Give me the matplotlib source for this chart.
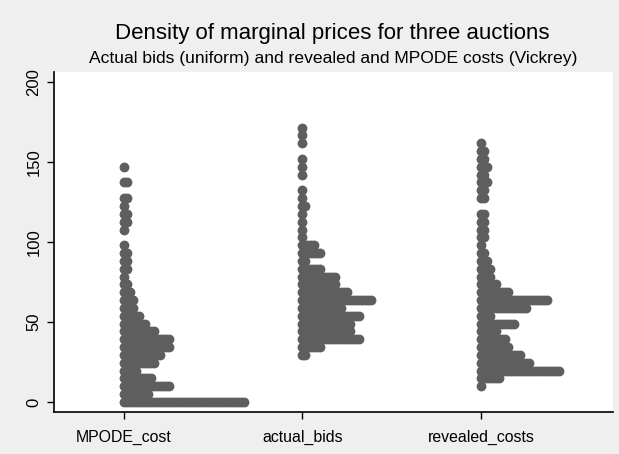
import numpy as np
import matplotlib
matplotlib.use("Agg")
import matplotlib.pyplot as plt

plt.rcParams['font.family'] = ['Liberation Sans', 'DejaVu Sans']

# Bin centres (marginal price) used by the dot plot
bin_values = [0.0, 4.9, 9.8, 14.7, 19.6, 24.5, 29.4, 34.3, 39.2, 44.1,
              49.0, 53.9, 58.8, 63.7, 68.6, 73.5, 78.4, 83.3, 88.2, 93.1,
              98.0, 102.9, 107.8, 112.7, 117.6, 122.5, 127.4, 132.3, 137.2, 142.1,
              147.0, 151.9, 156.8, 161.7, 166.6, 171.5]

categories = ["MPODE_cost", "actual_bids", "revealed_costs"]

# Number of dots in each bin, per variable
mpode_counts = [41, 9, 16, 10, 5, 11, 13, 16, 16, 11,
                8, 6, 4, 4, 3, 2, 1, 2, 2, 2,
                1, 0, 1, 2, 2, 1, 2, 0, 2, 0,
                1, 0, 0, 0, 0, 0]
actual_counts = [0, 0, 0, 0, 0, 0, 2, 7, 20, 17,
                 17, 20, 14, 24, 16, 12, 12, 7, 2, 7,
                 5, 1, 1, 1, 1, 2, 1, 1, 0, 1,
                 1, 1, 0, 1, 1, 1]
revealed_counts = [0, 0, 1, 7, 27, 17, 14, 10, 9, 6,
                   12, 4, 16, 23, 10, 6, 4, 4, 3, 2,
                   1, 2, 2, 2, 2, 0, 2, 2, 3, 2,
                   3, 2, 2, 1, 0, 0]

y_ticks = [0, 50, 100, 150, 200]

W, H = 619, 454
fig = plt.figure(figsize=(W / 100, H / 100), dpi=100)
fig.patch.set_facecolor('#efefef')

ax = fig.add_axes([54 / W, (H - 412) / H, (613 - 54) / W, (412 - 72) / H])
ax.set_facecolor('white')

dot_step = 0.0168
dot_color = '#5e5e5e'
for i, counts in enumerate([mpode_counts, actual_counts, revealed_counts]):
    xs, ys = [], []
    for yv, c in zip(bin_values, counts):
        for j in range(c):
            xs.append(i + 1 + j * dot_step)
            ys.append(yv)
    ax.scatter(xs, ys, s=50, color=dot_color, linewidths=0, zorder=3)

ax.set_xlim(0.608, 3.7395)
ax.set_ylim(-6.25, 206.25)
ax.set_xticks([1, 2, 3])
ax.set_xticklabels(categories, fontsize=11.4)
ax.set_yticks(y_ticks)
ax.set_yticklabels([str(t) for t in y_ticks], fontsize=12, rotation=90, va='center')
ax.tick_params(axis='both', length=5, width=1, color='black', pad=4)
ax.tick_params(axis='x', pad=8)

for s in ['top', 'right']:
    ax.spines[s].set_visible(False)
for s in ['left', 'bottom']:
    ax.spines[s].set_linewidth(1.2)
    ax.spines[s].set_color('black')

fig.text(332 / W, 1 - 34 / H, "Density of marginal prices for three auctions",
         ha='center', va='center', fontsize=16)
fig.text(333.5 / W, 1 - 59 / H, "Actual bids (uniform) and revealed and MPODE costs (Vickrey)",
         ha='center', va='center', fontsize=12.6)

fig.savefig("out.png", dpi=100, facecolor=fig.get_facecolor())
